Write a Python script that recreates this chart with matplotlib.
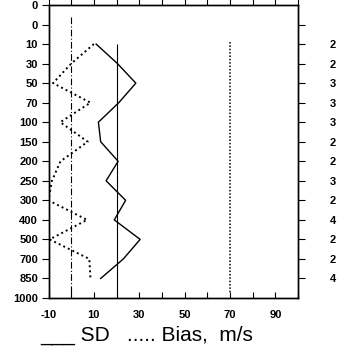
import matplotlib
matplotlib.use("Agg")
import matplotlib.pyplot as plt
import numpy as np

# ---- data ----
level_labels = ["0", "0", "10", "30", "50", "70", "100", "150", "200", "250",
                "300", "400", "500", "700", "850", "1000"]
data_levels = ["10", "30", "50", "70", "100", "150", "200", "250", "300",
               "400", "500", "700", "850"]
sd_values = [11, 20.4, 28.5, 21, 12, 13, 20.7, 15.4, 24, 19, 30.4, 23, 13]
bias_values = [10, 0, -8, 8.5, -4.8, 7.3, -4.7, -8.5, -10, 7, -9.5, 8, 8.5]
counts = ["2", "2", "3", "3", "3", "2", "2", "3", "2", "4", "2", "2", "4"]
x_ticks = [-10, 0, 10, 20, 30, 40, 50, 60, 70, 80, 90, 100]
x_ticklabels = ["-10", "", "10", "", "30", "", "50", "", "70", "", "90", ""]
ref_lines_x = [0, 20, 70]

plt.rcParams['font.family'] = ['Liberation Sans', 'DejaVu Sans']

fig = plt.figure(figsize=(3.5, 3.61), dpi=100)
ax = fig.add_axes([48.5/350, 1-298/361, (298-48.5)/350, (298-5)/361])

y_data = [level_labels.index(l) for l in data_levels]

# reference vertical lines
ax.vlines(ref_lines_x[0], 0.6, 15, colors='black', linewidth=0.8,
          linestyles=(0, (6, 2, 1, 2)))
ax.vlines(ref_lines_x[1], 2.0, 15, colors='black', linewidth=0.8)
ax.vlines(ref_lines_x[2], 1.9, 14.75, colors='black', linewidth=1.1,
          linestyles=(0, (1, 1.2)))

ax.plot(sd_values, y_data, color='black', linewidth=1.0)
ax.plot(bias_values, y_data, color='black', linewidth=1.4, linestyle=(0, (1, 1.6)))

ax.set_xlim(-10, 100)
ax.set_ylim(15, 0)

ax.set_yticks(range(len(level_labels)))
ax.set_yticklabels(level_labels, fontsize=8, fontweight='bold')
ax.tick_params(axis='y', direction='out', length=5, width=0.8, pad=2.5)

ax.set_xticks(x_ticks)
ax.set_xticklabels(x_ticklabels, fontsize=8, fontweight='bold')
ax.tick_params(axis='x', direction='in', length=4, width=0.8, pad=9,
               top=True, labeltop=False)
for t in ax.xaxis.get_major_ticks():
    t.tick2line.set_marker(matplotlib.lines.TICKUP)
    t.tick2line.set_markersize(5)

ax2 = ax.twinx()
ax2.set_ylim(15, 0)
ax2.set_yticks(range(1, 15))
ax2.set_yticklabels([""] + counts, fontsize=8, fontweight='bold', ha='left')
ax2.tick_params(axis='y', direction='out', length=5, width=0.8, pad=18)

for a in (ax, ax2):
    for s in a.spines.values():
        s.set_linewidth(1.0)

fig.text(40/350, 1-341/361, "___ SD   ..... Bias,  m/s", fontsize=15,
         ha='left', va='baseline')

fig.savefig("out.png", dpi=100, facecolor='white')
